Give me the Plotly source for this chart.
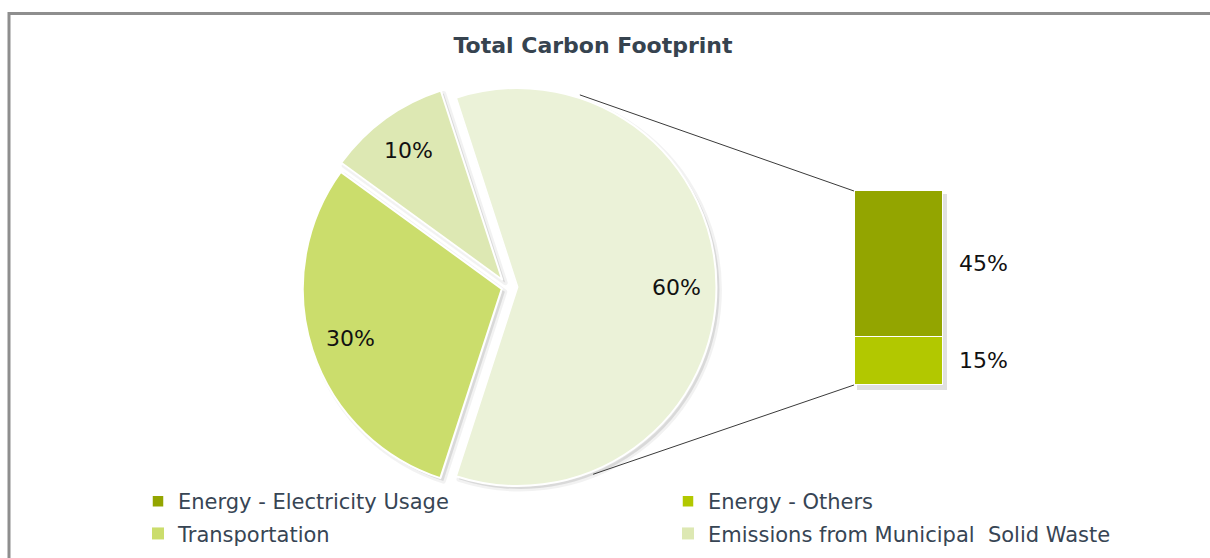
import math
import plotly.graph_objects as go

# ---- data ----
pie_labels = ["Energy", "Transportation", "Emissions from Municipal  Solid Waste"]
pie_values = [60, 30, 10]
pie_colors = ["#EBF2D8", "#CBDD6C", "#DDE8B3"]
pie_pulls = [0.05, 0.03, 0.045]

bar_labels = ["Energy - Others", "Energy - Electricity Usage"]   # bottom -> top
bar_values = [15, 45]
bar_colors = ["#B2C800", "#93A500"]

legend_left = ["Energy - Electricity Usage", "Transportation"]
legend_right = ["Energy - Others", "Emissions from Municipal  Solid Waste"]

# ---- geometry (pixels) ----
W, H = 1210, 558
CX, CY, R = 507.5, 287, 199        # pie centre and radius
ROT = -18                          # start angle of first slice (clockwise from 12 o'clock)
LABEL_F = 0.8                      # label distance as fraction of radius
BAR_X0, BAR_X1 = 855, 943
BAR_Y0, BAR_Y1 = 191, 385          # top / bottom of stacked bar
BAR_LABEL_X = 983
FONT = "DejaVu Sans"


def px(x):
    return x / W


def py(y):
    return 1 - y / H


half = R * (1 + max(pie_pulls))
pie_domain = dict(x=[px(CX - half), px(CX + half)], y=[py(CY + half), py(CY - half)])
shadow_domain = dict(x=[px(CX - half + 3), px(CX + half + 3)], y=[py(CY + half + 3), py(CY - half + 3)])

fig = go.Figure()

# soft drop shadow under the pie
fig.add_trace(go.Pie(
    labels=pie_labels, values=pie_values, sort=False, direction="clockwise",
    rotation=ROT, pull=pie_pulls, domain=shadow_domain,
    marker=dict(colors=["rgba(0,0,0,0.10)"] * 3, line=dict(color="rgba(0,0,0,0.05)", width=5)),
    textinfo="none", hoverinfo="skip", showlegend=False,
))

fig.add_trace(go.Pie(
    labels=pie_labels, values=pie_values, sort=False, direction="clockwise",
    rotation=ROT, pull=pie_pulls, domain=pie_domain,
    marker=dict(colors=pie_colors, line=dict(color="white", width=2)),
    textinfo="none", hoverinfo="label+percent", showlegend=False,
))

# stacked bar breaking down the energy slice
for name, val, col in zip(bar_labels, bar_values, bar_colors):
    fig.add_trace(go.Bar(
        x=[0], y=[val], width=1, name=name, marker=dict(color=col, line=dict(color="white", width=1.5)),
        legend="legend" if name in legend_left else "legend2",
        legendgroup=name, hoverinfo="name+y",
    ))

# legend-only entries for the remaining pie categories
for name, col in zip(pie_labels[1:], pie_colors[1:]):
    fig.add_trace(go.Scatter(
        x=[None], y=[None], mode="markers", name=name,
        marker=dict(symbol="square", size=12, color=col),
        legend="legend" if name in legend_left else "legend2",
        legendgroup=name,
    ))

annotations = []
# pie percentage labels
total = sum(pie_values)
start = ROT
for val, pull in zip(pie_values, pie_pulls):
    span = 360 * val / total
    mid = math.radians(start + span / 2)
    d = (pull + LABEL_F) * R
    annotations.append(dict(
        x=px(CX + d * math.sin(mid)), y=py(CY - d * math.cos(mid)), xref="paper", yref="paper",
        xanchor="center", yanchor="middle",
        text=f"{val / total * 100:.0f}%", showarrow=False,
        font=dict(family=FONT, size=22, color="#111111"),
    ))
    start += span

# bar percentage labels
cum = 0
for val in bar_values:
    annotations.append(dict(
        x=px(BAR_LABEL_X), y=cum + val / 2, xref="paper", yref="y",
        text=f"{val}%", showarrow=False, xanchor="center", yanchor="middle",
        font=dict(family=FONT, size=22, color="#111111"),
    ))
    cum += val

# connector lines from the energy slice to the bar
energy_mid = math.radians(ROT + 360 * pie_values[0] / total / 2)
ecx = CX + pie_pulls[0] * R * math.sin(energy_mid)
ecy = CY - pie_pulls[0] * R * math.cos(energy_mid)
conn_angles = [18, 158]
shapes = []
for ang, by in zip(conn_angles, [BAR_Y0, BAR_Y1]):
    a = math.radians(ang)
    shapes.append(dict(
        type="line", xref="paper", yref="paper",
        x0=px(ecx + (R + 3) * math.sin(a)), y0=py(ecy - (R + 3) * math.cos(a)),
        x1=px(BAR_X0 - 1), y1=py(by),
        line=dict(color="#3a3a3a", width=1),
    ))

# bar shadow
shapes.append(dict(
    type="rect", xref="paper", yref="paper", layer="below",
    x0=px(BAR_X0 + 2), x1=px(BAR_X1 + 4), y0=py(BAR_Y1 + 5), y1=py(BAR_Y0 + 3),
    fillcolor="rgba(0,0,0,0.12)", line=dict(width=0),
))

# chart frame (top and left edges)
shapes.append(dict(type="line", xref="paper", yref="paper", x0=px(8), x1=1.0, y0=py(13.5), y1=py(13.5),
                   line=dict(color="#8e8e8e", width=3)))
shapes.append(dict(type="line", xref="paper", yref="paper", x0=px(9), x1=px(9), y0=py(12), y1=0,
                   line=dict(color="#8e8e8e", width=3)))

legend_style = dict(
    orientation="v", yanchor="top", xanchor="left", bgcolor="rgba(0,0,0,0)",
    font=dict(family=FONT, size=21, color="#374554"), tracegroupgap=2,
    traceorder="grouped", itemclick=False, itemdoubleclick=False,
)

fig.update_layout(
    width=W, height=H, margin=dict(l=0, r=0, t=0, b=0),
    paper_bgcolor="white", plot_bgcolor="rgba(0,0,0,0)",
    title=dict(text="<b>Total Carbon Footprint</b>", x=px(593), xanchor="center",
               y=py(45), yanchor="middle", yref="paper",
               font=dict(family=FONT, size=22, color="#36434F")),
    barmode="stack", bargap=0,
    xaxis=dict(domain=[px(BAR_X0), px(BAR_X1)], range=[-0.5, 0.5], visible=False, fixedrange=True),
    yaxis=dict(domain=[py(BAR_Y1), py(BAR_Y0)], range=[0, sum(bar_values)], visible=False, fixedrange=True),
    legend=dict(x=px(138), y=py(481), **legend_style),
    legend2=dict(x=px(668), y=py(481), **legend_style),
    annotations=annotations, shapes=shapes,
)

fig.write_html("out.html")
